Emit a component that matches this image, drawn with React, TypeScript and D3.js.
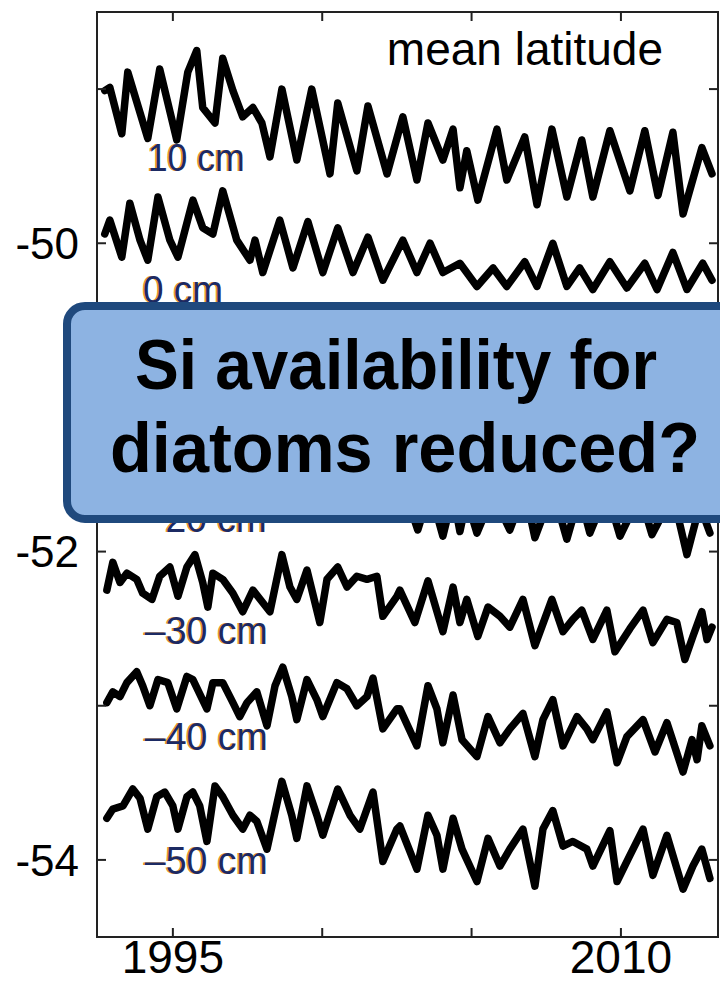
import React from "react";
import * as d3 from "d3";

// tick values and labels
const yearTicks = [1995, 2000, 2005, 2010];
const yearLabels = ["1995", "", "", "2010"];
const latTicks = [-54, -53, -52, -51, -50, -49];
const latLabels = ["-54", "", "-52", "", "-50", ""];

// mean latitude per depth level, [year, latitude]
const depth10 = [
  [1992.72, -49.01], [1992.89, -48.99], [1993.29, -49.29], [1993.49, -48.89], [1994.16, -49.32],
  [1994.56, -48.87], [1995.13, -49.33], [1995.5, -48.89], [1995.8, -48.75], [1996.0, -49.12],
  [1996.41, -49.22], [1996.67, -48.8], [1997.01, -49.01], [1997.34, -49.18], [1997.68, -49.12],
  [1997.98, -49.22], [1998.25, -49.44], [1998.65, -49.0], [1999.15, -49.46], [1999.65, -49.0],
  [2000.26, -49.55], [2000.52, -49.09], [2001.16, -49.53], [2001.53, -49.11], [2002.17, -49.55],
  [2002.7, -49.18], [2003.17, -49.59], [2003.54, -49.22], [2004.04, -49.46], [2004.38, -49.26],
  [2004.61, -49.64], [2004.84, -49.4], [2005.21, -49.72], [2005.85, -49.26], [2006.18, -49.59],
  [2006.78, -49.31], [2007.19, -49.75], [2007.69, -49.26], [2008.19, -49.7], [2008.69, -49.33],
  [2009.06, -49.7], [2009.63, -49.27], [2010.3, -49.66], [2010.8, -49.27], [2011.24, -49.69],
  [2011.74, -49.28], [2012.08, -49.81], [2012.71, -49.38], [2013.05, -49.55],
];

const depth0 = [
  [1992.72, -49.94], [1992.89, -49.85], [1993.29, -50.09], [1993.56, -49.74], [1993.9, -49.98],
  [1994.16, -50.11], [1994.5, -49.7], [1994.9, -49.98], [1995.17, -50.09], [1995.67, -49.72],
  [1996.0, -49.9], [1996.34, -49.94], [1996.67, -49.66], [1997.14, -49.98], [1997.58, -50.11],
  [1997.75, -49.98], [1998.01, -50.19], [1998.58, -49.85], [1999.02, -50.16], [1999.52, -49.86],
  [2000.02, -50.19], [2000.52, -49.9], [2001.03, -50.19], [2001.53, -49.96], [2002.03, -50.24],
  [2002.7, -49.98], [2003.17, -50.19], [2003.61, -50.0], [2004.04, -50.19], [2004.61, -50.13],
  [2005.18, -50.28], [2005.72, -50.16], [2006.18, -50.28], [2006.78, -50.12], [2007.19, -50.28],
  [2007.72, -50.0], [2008.19, -50.28], [2008.62, -50.16], [2009.06, -50.3], [2009.63, -50.12],
  [2010.2, -50.29], [2010.8, -50.13], [2011.21, -50.3], [2011.74, -50.06], [2012.21, -50.3],
  [2012.74, -50.13], [2013.05, -50.24],
];

const depth20 = [
  [1992.72, -51.53], [1993.29, -51.7], [1993.56, -51.47], [1994.16, -51.72], [1994.5, -51.44],
  [1995.17, -51.73], [1995.67, -51.46], [1996.34, -51.7], [1996.67, -51.42], [1997.58, -51.73],
  [1998.01, -51.66], [1998.58, -51.47], [1999.02, -51.74], [1999.52, -51.48], [2000.02, -51.76],
  [2000.52, -51.52], [2001.03, -51.76], [2001.53, -51.53], [2002.03, -51.79], [2002.7, -51.57],
  [2003.2, -51.86], [2003.61, -51.6], [2004.04, -51.9], [2004.38, -51.63], [2004.61, -51.87],
  [2004.84, -51.66], [2005.18, -51.88], [2005.72, -51.63], [2006.28, -51.86], [2006.78, -51.6],
  [2007.12, -51.91], [2007.72, -51.6], [2008.19, -51.92], [2008.62, -51.63], [2008.96, -51.88],
  [2009.53, -51.61], [2009.97, -51.9], [2010.64, -51.63], [2011.04, -51.89], [2011.74, -51.63],
  [2012.21, -52.02], [2012.64, -51.7], [2012.98, -51.88],
];

const depth30 = [
  [1992.79, -52.25], [1992.99, -52.07], [1993.23, -52.2], [1993.46, -52.14], [1993.79, -52.18],
  [1993.99, -52.27], [1994.3, -52.31], [1994.56, -52.16], [1994.9, -52.1], [1995.17, -52.29],
  [1995.47, -52.1], [1995.74, -52.02], [1996.0, -52.2], [1996.17, -52.36], [1996.34, -52.14],
  [1996.67, -52.18], [1997.01, -52.27], [1997.34, -52.39], [1997.68, -52.25], [1998.25, -52.39],
  [1998.65, -52.02], [1998.92, -52.23], [1999.15, -52.31], [1999.49, -52.12], [1999.92, -52.46],
  [2000.16, -52.18], [2000.52, -52.1], [2000.83, -52.23], [2001.16, -52.16], [2001.5, -52.18],
  [2001.83, -52.16], [2002.03, -52.42], [2002.5, -52.29], [2002.6, -52.25], [2003.1, -52.46],
  [2003.54, -52.19], [2004.04, -52.52], [2004.38, -52.23], [2004.61, -52.46], [2004.84, -52.31],
  [2005.21, -52.55], [2005.55, -52.36], [2005.95, -52.42], [2006.28, -52.49], [2006.72, -52.31],
  [2007.12, -52.61], [2007.69, -52.31], [2008.06, -52.52], [2008.39, -52.44], [2008.69, -52.38],
  [2009.06, -52.57], [2009.53, -52.38], [2009.8, -52.65], [2010.3, -52.5], [2010.74, -52.38],
  [2011.07, -52.59], [2011.54, -52.44], [2011.87, -52.46], [2012.14, -52.7], [2012.41, -52.55],
  [2012.71, -52.39], [2012.88, -52.57], [2013.05, -52.49],
];

const depth40 = [
  [1992.79, -52.98], [1992.99, -52.91], [1993.23, -52.94], [1993.46, -52.85], [1993.79, -52.78],
  [1993.99, -52.87], [1994.23, -53.0], [1994.5, -52.83], [1994.83, -52.85], [1995.13, -53.02],
  [1995.47, -52.81], [1995.67, -52.83], [1996.14, -53.02], [1996.34, -52.85], [1996.67, -52.85],
  [1997.01, -52.98], [1997.24, -53.07], [1997.48, -52.98], [1997.81, -52.91], [1998.15, -53.13],
  [1998.42, -52.87], [1998.68, -52.75], [1998.98, -52.94], [1999.15, -53.09], [1999.49, -52.83],
  [1999.82, -52.96], [2000.02, -53.07], [2000.49, -52.85], [2000.83, -52.89], [2001.16, -53.0],
  [2001.5, -52.94], [2001.7, -52.82], [2002.03, -53.15], [2002.5, -53.02], [2002.6, -53.02],
  [2003.17, -53.26], [2003.54, -52.87], [2003.84, -53.02], [2004.04, -53.24], [2004.38, -52.93],
  [2004.68, -53.22], [2005.18, -53.33], [2005.55, -53.07], [2005.95, -53.24], [2006.28, -53.15],
  [2006.72, -53.05], [2007.12, -53.33], [2007.39, -53.09], [2007.72, -52.96], [2008.06, -53.26],
  [2008.53, -53.07], [2008.86, -53.15], [2009.06, -53.22], [2009.53, -53.04], [2009.87, -53.37],
  [2010.2, -53.2], [2010.74, -53.09], [2011.14, -53.3], [2011.54, -53.11], [2012.08, -53.43],
  [2012.38, -53.22], [2012.55, -53.35], [2012.71, -53.13], [2012.98, -53.26],
];

const depth50 = [
  [1992.79, -53.73], [1992.99, -53.67], [1993.33, -53.65], [1993.66, -53.54], [1993.9, -53.6],
  [1994.16, -53.8], [1994.46, -53.59], [1994.73, -53.56], [1995.0, -53.65], [1995.17, -53.8],
  [1995.47, -53.59], [1995.67, -53.56], [1995.9, -53.65], [1996.14, -53.88], [1996.41, -53.52],
  [1996.67, -53.59], [1997.01, -53.71], [1997.34, -53.8], [1997.58, -53.71], [1997.81, -53.75],
  [1998.15, -53.93], [1998.65, -53.49], [1998.98, -53.71], [1999.15, -53.86], [1999.49, -53.52],
  [1999.82, -53.71], [2000.02, -53.84], [2000.52, -53.54], [2000.93, -53.71], [2001.26, -53.8],
  [2001.7, -53.56], [2002.03, -54.01], [2002.5, -53.8], [2002.6, -53.78], [2003.17, -54.06],
  [2003.54, -53.71], [2003.84, -53.84], [2004.04, -54.06], [2004.38, -53.73], [2004.68, -53.93],
  [2005.18, -54.14], [2005.55, -53.86], [2005.95, -54.04], [2006.28, -53.93], [2006.72, -53.8],
  [2007.12, -54.17], [2007.39, -53.8], [2007.72, -53.68], [2008.06, -53.91], [2008.39, -53.88],
  [2008.86, -53.93], [2009.06, -54.04], [2009.63, -53.81], [2009.87, -54.14], [2010.3, -53.97],
  [2010.74, -53.8], [2011.07, -54.1], [2011.54, -53.84], [2012.08, -54.19], [2012.41, -54.04],
  [2012.71, -53.93], [2012.98, -54.12],
];

const seriesNames = ["10 cm", "0 cm", "\u201320 cm", "\u201330 cm", "\u201340 cm", "\u201350 cm"];
const series = [depth10, depth0, depth20, depth30, depth40, depth50];

// label anchors (year, latitude of baseline) and drawn widths
const labelAt = [
  [1994.16, -49.53], [1994.0, -50.39], [1994.06, -51.87],
  [1994.06, -52.6], [1994.06, -53.29], [1994.06, -54.09],
];
const labelWidth = [97, 80, 122, 123, 123, 123];

const W = 720;
const H = 984;
const margin = { left: 97, top: 12, right: 2, bottom: 47 };
const font = "'Liberation Sans', Arial, Helvetica, sans-serif";

export default function App() {
  const x = d3
    .scaleLinear()
    .domain([1992.46, 2013.25])
    .range([margin.left, W - margin.right]);
  const y = d3
    .scaleLinear()
    .domain([-54.5, -48.5])
    .range([H - margin.bottom, margin.top]);

  const line = d3
    .line()
    .x((d) => x(d[0]))
    .y((d) => y(d[1]));

  const x0 = x.range()[0];
  const x1 = x.range()[1];
  const yTop = y.range()[1];
  const yBot = y.range()[0];
  const tick = 9;

  return (
    <svg
      width={W}
      height={H}
      style={{ position: "absolute", left: 0, top: 0, background: "#fff" }}
      fontFamily={font}
    >
      <rect x={0} y={0} width={W} height={H} fill="#fff" />

      {/* data lines */}
      {series.map((s, i) => (
        <path
          key={"s" + i}
          d={line(s)}
          fill="none"
          stroke="#000"
          strokeWidth={7.5}
          strokeLinejoin="round"
          strokeLinecap="round"
        />
      ))}

      {/* depth labels, dark blue with an orange fringe */}
      {seriesNames.map((name, i) => (
        <g key={"l" + i} fontSize={38}>
          <text
            x={x(labelAt[i][0]) - 1.5}
            y={y(labelAt[i][1])}
            fill="#e79a2a"
            textLength={labelWidth[i]}
            lengthAdjust="spacingAndGlyphs"
          >
            {name}
          </text>
          <text
            x={x(labelAt[i][0])}
            y={y(labelAt[i][1])}
            fill="#1c2a63"
            textLength={labelWidth[i]}
            lengthAdjust="spacingAndGlyphs"
          >
            {name}
          </text>
        </g>
      ))}

      {/* frame */}
      <rect
        x={x0}
        y={yTop}
        width={x1 - x0}
        height={yBot - yTop}
        fill="none"
        stroke="#222"
        strokeWidth={2}
      />

      {/* year ticks top and bottom */}
      {yearTicks.map((t, i) => (
        <g key={"xt" + i}>
          <line x1={x(t)} x2={x(t)} y1={yTop} y2={yTop + tick} stroke="#222" strokeWidth={2} />
          <line x1={x(t)} x2={x(t)} y1={yBot} y2={yBot - tick} stroke="#222" strokeWidth={2} />
          {yearLabels[i] && (
            <text x={x(t)} y={973} textAnchor="middle" fontSize={46} fill="#000">
              {yearLabels[i]}
            </text>
          )}
        </g>
      ))}

      {/* latitude ticks left and right */}
      {latTicks.map((t, i) => (
        <g key={"yt" + i}>
          <line x1={x0} x2={x0 + tick} y1={y(t)} y2={y(t)} stroke="#222" strokeWidth={2} />
          <line x1={x1} x2={x1 - tick} y1={y(t)} y2={y(t)} stroke="#222" strokeWidth={2} />
          {latLabels[i] && (
            <text
              x={79}
              y={y(t)}
              dy="0.36em"
              textAnchor="end"
              fontSize={44}
              fill="#000"
            >
              {latLabels[i]}
            </text>
          )}
        </g>
      ))}

      <text x={663} y={65} textAnchor="end" fontSize={46} fill="#000">
        mean latitude
      </text>

      {/* callout box */}
      <rect
        x={67}
        y={306}
        width={700}
        height={213}
        rx={18}
        fill="#8db3e2"
        stroke="#1f497d"
        strokeWidth={8}
      />
      <text
        x={135}
        y={389}
        fontSize={70}
        fontWeight="bold"
        fill="#000"
        textLength={522}
        lengthAdjust="spacingAndGlyphs"
      >
        Si availability for
      </text>
      <text
        x={110}
        y={472}
        fontSize={70}
        fontWeight="bold"
        fill="#000"
        textLength={590}
        lengthAdjust="spacingAndGlyphs"
      >
        diatoms reduced?
      </text>
    </svg>
  );
}
